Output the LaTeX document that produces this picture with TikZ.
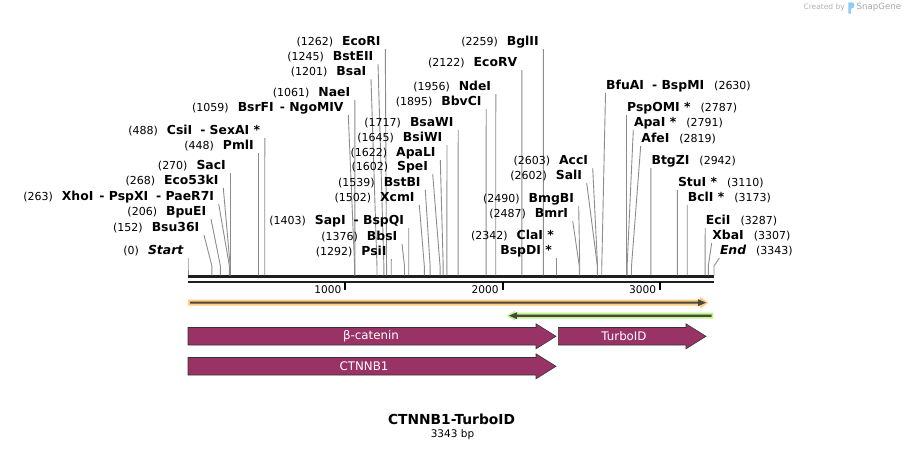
\documentclass[tikz,border=0pt]{standalone}
\usepackage{fontspec}
\setmainfont{DejaVu Sans}
\definecolor{featmaroon}{RGB}{153,51,102}
\definecolor{orL}{RGB}{255,204,128}
\definecolor{grL}{RGB}{190,245,140}
\definecolor{darkln}{RGB}{72,72,60}
\definecolor{sitegray}{RGB}{140,140,140}
\definecolor{logoblue}{RGB}{140,205,245}
\newcommand{\pnum}[1]{{\fontsize{11}{12}\selectfont(#1)}}
\newcommand{\ename}[1]{{\fontsize{12.4}{14}\selectfont\bfseries #1}}
\newcommand{\enameit}[1]{{\fontsize{12.4}{14}\selectfont\bfseries\itshape #1}}
\newcommand{\LSite}[6]{%
  \node[lab,anchor=south east] (#1) at (#3,#4+7) {\pnum{#5}\hspace{9pt}#6};
  \coordinate (#1k) at ({188+#2*0.15734},266);
  \coordinate (#1s) at ({188+#2*0.15734},275.3);
  \draw[site] (#1.south east) -- (#1k) -- (#1s);}
\newcommand{\RSite}[6]{%
  \node[lab,inner xsep=0.5pt,anchor=south west] (#1) at (#3,#4+7) {#5\hspace{10pt}\pnum{#6}};
  \coordinate (#1k) at ({188+#2*0.15734},266);
  \coordinate (#1s) at ({188+#2*0.15734},275.3);
  \draw[site] (#1.south west) -- (#1k) -- (#1s);}
\begin{document}
\begin{tikzpicture}[x=1pt,y=-1pt,
  lab/.style={inner xsep=4.5pt,inner ysep=0pt,text height=9pt,text depth=3pt},
  site/.style={draw=sitegray,line width=0.9pt},
  bb/.style={draw=black!88,line width=2.5pt},
  tick/.style={draw=black,line width=1.8pt},
  ticklab/.style={inner sep=0pt,font=\fontsize{10.6}{12}\selectfont},
  feat/.style={fill=featmaroon,draw=black!80,line width=0.6pt},
  feattext/.style={text=white,font=\fontsize{11.8}{13}\selectfont}]
\useasboundingbox (0,0) rectangle (905,450);

% backbone
\coordinate (bbA) at (188,276.5);
\coordinate (bbB) at (714,276.5);
\coordinate (bbC) at (188,282);
\coordinate (bbD) at (714,282);
\draw[bb] (bbA) -- (bbB);
\draw[bb] (bbC) -- (bbD);

% ticks
\foreach \k in {1000,2000,3000}{
  \coordinate (t\k a) at ({188+\k*0.15734},282);
  \coordinate (t\k b) at ({188+\k*0.15734},290);
  \draw[tick] (t\k a) -- (t\k b);
  \node[ticklab,anchor=east] (tl\k) at ({188+\k*0.15734-3.8},289.3) {\k};
}

% left-side labels
\LSite{start}{0}{188}{251}{0}{\enameit{Start}}
\LSite{bsu}{152}{204}{228}{152}{\ename{Bsu36I}}
\LSite{bpu}{206}{211}{212}{206}{\ename{BpuEI}}
\LSite{xho}{263}{218.7}{197}{263}{\ename{XhoI\hspace{6pt}- PspXI\hspace{8pt}- PaeR7I}}
\LSite{ecok}{268}{223.3}{181}{268}{\ename{Eco53kI}}
\LSite{sac}{270}{230.5}{166}{270}{\ename{SacI}}
\LSite{pml}{448}{258.5}{146}{448}{\ename{PmlI}}
\LSite{csi}{488}{264.8}{131}{488}{\ename{CsiI\hspace{8pt}- SexAI *}}
\LSite{bsrf}{1059}{348.3}{108}{1059}{\ename{BsrFI\hspace{6pt}- NgoMIV}}
\LSite{nae}{1061}{354.9}{93}{1061}{\ename{NaeI}}
\LSite{bsa}{1201}{371}{72}{1201}{\ename{BsaI}}
\LSite{bste}{1245}{378}{57}{1245}{\ename{BstEII}}
\LSite{ecor}{1262}{385.3}{42}{1262}{\ename{EcoRI}}
\LSite{bsaw}{1717}{458.2}{123}{1717}{\ename{BsaWI}}
\LSite{bsiw}{1645}{447}{138}{1645}{\ename{BsiWI}}
\LSite{apal}{1622}{440.3}{153}{1622}{\ename{ApaLI}}
\LSite{spe}{1602}{432.7}{167}{1602}{\ename{SpeI}}
\LSite{bstb}{1539}{425.3}{183}{1539}{\ename{BstBI}}
\LSite{xcm}{1502}{419.3}{198}{1502}{\ename{XcmI}}
\LSite{sap}{1403}{408.7}{221}{1403}{\ename{SapI\hspace{8pt}- BspQI}}
\LSite{bbs}{1376}{402}{237}{1376}{\ename{BbsI}}
\LSite{psi}{1292}{391.3}{252}{1292}{\ename{PsiI}}
\LSite{bgl}{2259}{543.4}{42}{2259}{\ename{BglII}}
\LSite{ecorv}{2122}{521.9}{63}{2122}{\ename{EcoRV}}
\LSite{nde}{1956}{495.8}{87}{1956}{\ename{NdeI}}
\LSite{bbvc}{1895}{486.2}{102}{1895}{\ename{BbvCI}}
\LSite{acc}{2603}{592.7}{161}{2603}{\ename{AccI}}
\LSite{sal}{2602}{586.7}{176}{2602}{\ename{SalI}}
\LSite{bmgb}{2490}{578.7}{199}{2490}{\ename{BmgBI}}
\LSite{bmr}{2487}{572.7}{214}{2487}{\ename{BmrI}}
\node[lab,anchor=south east] (cla) at (558.5,243) {\pnum{2342}\hspace{9pt}\ename{ClaI *}};
\node[lab,anchor=south east] (bspd) at (556.5,258) {\ename{BspDI *}};
\coordinate (bspdk) at ({188+2342*0.15734},266);
\coordinate (bspds) at ({188+2342*0.15734},275.3);
\draw[site] (bspd.south east) -- (bspdk) -- (bspds);

% right-side labels
\RSite{bfua}{2630}{605.5}{86}{\ename{BfuAI\hspace{8pt}- BspMI}}{2630}
\RSite{pspo}{2787}{626.5}{108}{\ename{PspOMI *}}{2787}
\RSite{apa}{2791}{633.3}{123}{\ename{ApaI *}}{2791}
\RSite{afe}{2819}{640.7}{139}{\ename{AfeI}}{2819}
\RSite{btgz}{2942}{650.9}{161}{\ename{BtgZI}}{2942}
\RSite{stu}{3110}{677.3}{183}{\ename{StuI *}}{3110}
\RSite{bcl}{3173}{687.2}{198}{\ename{BclI *}}{3173}
\RSite{eci}{3287}{705.2}{221}{\ename{EciI}}{3287}
\RSite{xba}{3307}{711.7}{236}{\ename{XbaI}}{3307}
\RSite{endl}{3343}{719.3}{251}{\enameit{End}}{3343}

% orange forward feature
\fill[orL] (188,299.7) -- (700,299.7) -- (700,296.7) -- (708.5,302.7) -- (700,308.7) -- (700,305.7) -- (188,305.7) -- cycle;
\fill[darkln] (190,301.7) -- (698,301.7) -- (698,299.2) -- (706,302.7) -- (698,306.2) -- (698,303.7) -- (190,303.7) -- cycle;
% green reverse feature
\fill[grL] (713.3,312.7) -- (515,312.7) -- (515,310.7) -- (506.5,315.7) -- (515,320.7) -- (515,318.7) -- (713.3,318.7) -- cycle;
\fill[darkln] (711.7,314.6) -- (517,314.6) -- (517,312.2) -- (509,315.7) -- (517,319.2) -- (517,316.8) -- (711.7,316.8) -- cycle;

% maroon features
\draw[feat] (188,327.5) -- (536,327.5) -- (536,323.8) -- (556,336.3) -- (536,348.8) -- (536,345) -- (188,345) -- cycle;
\node[feattext] (fbeta) at (371,336.3) {β-catenin};
\draw[feat] (558.3,327.5) -- (686,327.5) -- (686,323.8) -- (706,336.3) -- (686,348.8) -- (686,345) -- (558.3,345) -- cycle;
\node[feattext] (fturbo) at (624,336.3) {TurboID};
\draw[feat] (188,357.5) -- (536,357.5) -- (536,353.8) -- (556,366.3) -- (536,378.8) -- (536,375) -- (188,375) -- cycle;
\node[feattext] (fctnnb) at (364,366.3) {CTNNB1};

% title
\node[font=\fontsize{13.8}{16}\selectfont\bfseries] (title) at (451.5,419) {CTNNB1-TurboID};
\node[font=\fontsize{10.5}{12}\selectfont] (bp) at (452.5,435) {3343 bp};

% watermark
\node[anchor=east,inner sep=0pt,text=black!30,font=\fontsize{7.5}{9}\selectfont] (cby) at (845,7.5) {Created by};
\fill[logoblue] (848.3,13.5) -- (848.3,2.3) -- (851.5,2.3) .. controls (855.5,2.3) and (855.5,8.5) .. (851,8.8) -- (850.8,13.5) -- cycle;
\node[anchor=west,inner sep=0pt,text=black!35,font=\fontsize{8.6}{10}\selectfont] (sg) at (856.5,7.5) {SnapGene};
\end{tikzpicture}
\end{document}
